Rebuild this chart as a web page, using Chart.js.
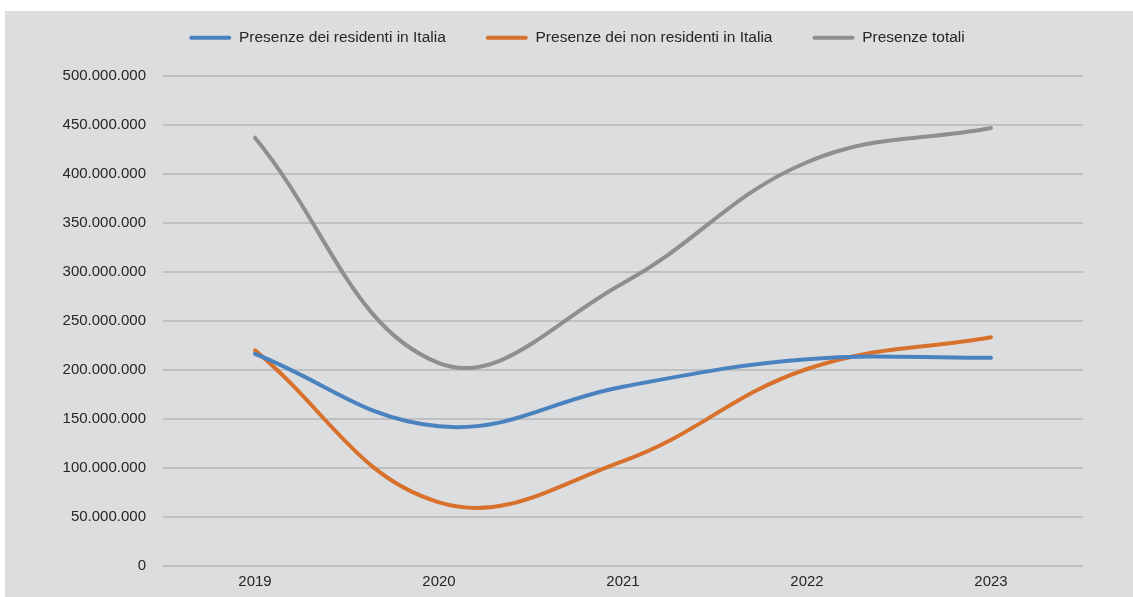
<!DOCTYPE html>
<html>
<head>
<meta charset="utf-8">
<script src="https://cdn.jsdelivr.net/npm/chart.js@4"></script>
<style>
  html, body { margin: 0; padding: 0; background: #fff; }
  #box { position: absolute; left: 5px; top: 11px; width: 1128px; height: 586px; background: #dcdddf; }
</style>
</head>
<body>
<div id="box"><canvas id="chart"></canvas></div>
<script>
const anni = ["2019", "2020", "2021", "2022", "2023"];
const residenti = [216500000, 142500000, 183000000, 211000000, 212500000];
const nonResidenti = [220000000, 65000000, 107000000, 201000000, 233500000];
const totali = [437000000, 207000000, 288500000, 412000000, 447000000];
const yMax = 500000000;
const yStep = 50000000;

// formato italiano con i punti
const fmt = v => String(v).replace(/\B(?=(\d{3})+(?!\d))/g, ".");

const font = "'Liberation Sans', Arial, sans-serif";

// spazio extra sotto la legenda, e legenda un po' spostata a destra
const legendGap = {
  id: "legendGap",
  beforeInit(chart) {
    const fit = chart.legend.fit;
    chart.legend.fit = function () {
      fit.bind(chart.legend)();
      this.height += 20.5;
    };
  },
  afterLayout(chart) {
    chart.legend.left += 33;
    chart.legend.right += 33;
  }
};

function serie(label, data, color) {
  return {
    label, data,
    borderColor: color,
    backgroundColor: color,
    borderWidth: 4,
    borderCapStyle: "round",
    pointRadius: 0,
    tension: 0.4,
    fill: false
  };
}

new Chart(document.getElementById("chart"), {
  type: "line",
  data: {
    labels: anni,
    datasets: [
      serie("Presenze dei residenti in Italia", residenti, "#4a82bf"),
      serie("Presenze dei non residenti in Italia", nonResidenti, "#d8712c"),
      serie("Presenze totali", totali, "#8e8f91")
    ]
  },
  options: {
    responsive: true,
    maintainAspectRatio: false,
    animation: false,
    layout: { padding: { top: -21, right: 50, bottom: 0, left: 0 } },
    plugins: {
      tooltip: { enabled: false },
      legend: {
        position: "top",
        labels: {
          font: { family: font, size: 15.5 },
          color: "#262626",
          boxWidth: 42,
          boxHeight: 4,
          padding: 40,
          useBorderRadius: true,
          borderRadius: 2,
          generateLabels(chart) {
            const items = Chart.defaults.plugins.legend.labels.generateLabels(chart);
            items.forEach(it => { it.lineWidth = 0; });
            return items;
          }
        }
      }
    },
    scales: {
      x: {
        offset: true,
        grid: { display: false, drawTicks: false },
        border: { display: false },
        ticks: { font: { family: font, size: 15 }, color: "#262626", padding: 6.5 }
      },
      y: {
        min: 0,
        max: yMax,
        afterFit(scale) { scale.width = 158; },
        grid: { color: "#bfc0c2", lineWidth: 2, drawTicks: false },
        border: { display: false },
        ticks: {
          stepSize: yStep,
          font: { family: font, size: 15 },
          color: "#262626",
          padding: 17,
          callback: v => fmt(v)
        }
      }
    }
  },
  plugins: [legendGap]
});
</script>
</body>
</html>
